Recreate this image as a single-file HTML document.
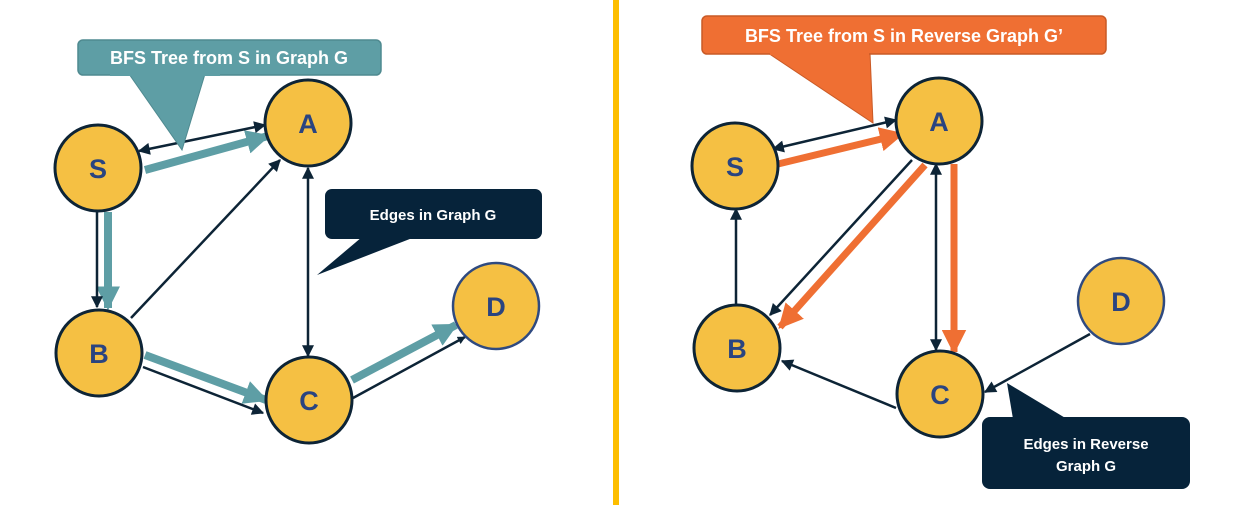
<!DOCTYPE html>
<html><head><meta charset="utf-8"><style>
html,body{margin:0;padding:0;background:#fff;}
svg{display:block;}
text{font-family:"Liberation Sans",Arial,sans-serif;font-weight:bold;}
</style></head><body>
<svg width="1235" height="519" viewBox="0 0 1235 519" xmlns="http://www.w3.org/2000/svg">
<defs>
<marker id="ab" viewBox="0 0 10 10" refX="9" refY="5" markerWidth="8" markerHeight="8" orient="auto-start-reverse" markerUnits="userSpaceOnUse"><path d="M0,0 L10,5 L0,10 z" fill="#0d2436"/></marker>
<marker id="abk" viewBox="0 0 10 10" refX="9" refY="5" markerWidth="13" markerHeight="12" orient="auto-start-reverse" markerUnits="userSpaceOnUse"><path d="M0,0 L10,5 L0,10 z" fill="#0d2436"/></marker>
<marker id="at" viewBox="0 0 10 10" refX="9" refY="5" markerWidth="3" markerHeight="3.2" orient="auto"><path d="M0,0 L10,5 L0,10 z" fill="#5e9ea5"/></marker>
<marker id="ao" viewBox="0 0 10 10" refX="9" refY="5" markerWidth="3.5" markerHeight="3.5" orient="auto"><path d="M0,0 L10,5 L0,10 z" fill="#ef6f33"/></marker>
</defs>

<rect x="613" y="0" width="6" height="505" fill="#fdbe00"/>

<g stroke="#5e9ea5" stroke-width="8" fill="none">
<line x1="145" y1="170" x2="268" y2="136" marker-end="url(#at)"/>
<line x1="108" y1="212" x2="108" y2="308" marker-end="url(#at)"/>
<line x1="145" y1="355" x2="266" y2="400" marker-end="url(#at)"/>
<line x1="352" y1="380" x2="456" y2="325" marker-end="url(#at)"/>
</g>
<g stroke="#0d2436" stroke-width="2.5" fill="none">
<line x1="139" y1="151" x2="265" y2="125" marker-start="url(#abk)" marker-end="url(#abk)"/>
<line x1="97" y1="212" x2="97" y2="307" marker-end="url(#abk)"/>
<line x1="131" y1="318" x2="280" y2="160" marker-end="url(#abk)"/>
<line x1="308" y1="168" x2="308" y2="356" marker-start="url(#abk)" marker-end="url(#abk)"/>
<line x1="143" y1="367" x2="263" y2="413" marker-end="url(#abk)"/>
<line x1="353" y1="398" x2="465" y2="337" marker-end="url(#ab)"/>
</g>

<g fill="#f5c043" stroke="#0d2436" stroke-width="3">
<circle cx="98" cy="168" r="43"/>
<circle cx="308" cy="123" r="43"/>
<circle cx="99" cy="353" r="43"/>
<circle cx="309" cy="400" r="43"/>
</g>
<circle cx="496" cy="306" r="43" fill="#f5c043" stroke="#2f4a80" stroke-width="2.5"/>
<g fill="#2a4480" font-size="27" text-anchor="middle">
<text x="98" y="178">S</text><text x="308" y="133">A</text><text x="99" y="363">B</text><text x="309" y="410">C</text><text x="496" y="316">D</text>
</g>

<polygon points="129,74 205,74 182,150" fill="#5e9ea5" stroke="#4f8a90" stroke-width="1"/>
<rect x="78" y="40" width="303" height="35" rx="5" fill="#5e9ea5" stroke="#4f8a90" stroke-width="1.5"/>
<rect x="110" y="74" width="110" height="2" fill="#5e9ea5"/>
<text x="229" y="64" fill="#fff" font-size="18" text-anchor="middle">BFS Tree from S in Graph G</text>

<polygon points="362,237 415,237 317,275" fill="#06233a"/>
<rect x="325" y="189" width="217" height="50" rx="7" fill="#06233a"/>
<text x="433" y="220" fill="#fff" font-size="15" text-anchor="middle">Edges in Graph G</text>

<g stroke="#ef6f33" stroke-width="7" fill="none">
<line x1="778" y1="164" x2="902" y2="134" marker-end="url(#ao)"/>
<line x1="925" y1="165" x2="780" y2="327" marker-end="url(#ao)"/>
<line x1="954" y1="164" x2="954" y2="352" marker-end="url(#ao)"/>
</g>
<g stroke="#0d2436" stroke-width="2.5" fill="none">
<line x1="773" y1="149" x2="896" y2="120" marker-start="url(#abk)" marker-end="url(#abk)"/>
<line x1="912" y1="160" x2="770" y2="315" marker-end="url(#abk)"/>
<line x1="936" y1="164" x2="936" y2="350" marker-start="url(#abk)" marker-end="url(#abk)"/>
<line x1="736" y1="304" x2="736" y2="209" marker-end="url(#abk)"/>
<line x1="896" y1="408" x2="782" y2="361" marker-end="url(#abk)"/>
<line x1="1090" y1="334" x2="985" y2="392" marker-end="url(#abk)"/>
</g>

<g fill="#f5c043" stroke="#0d2436" stroke-width="3">
<circle cx="735" cy="166" r="43"/>
<circle cx="939" cy="121" r="43"/>
<circle cx="737" cy="348" r="43"/>
<circle cx="940" cy="394" r="43"/>
</g>
<circle cx="1121" cy="301" r="43" fill="#f5c043" stroke="#2f4a80" stroke-width="2.5"/>
<g fill="#2a4480" font-size="27" text-anchor="middle">
<text x="735" y="176">S</text><text x="939" y="131">A</text><text x="737" y="358">B</text><text x="940" y="404">C</text><text x="1121" y="311">D</text>
</g>

<polygon points="768,53 870,53 873,123" fill="#ef6f33" stroke="#c95a26" stroke-width="1"/>
<rect x="702" y="16" width="404" height="38" rx="5" fill="#ef6f33" stroke="#c95a26" stroke-width="1.5"/>
<rect x="770" y="53" width="99" height="2" fill="#ef6f33"/>
<text x="904" y="42" fill="#fff" font-size="18" text-anchor="middle">BFS Tree from S in Reverse Graph G’</text>

<polygon points="1013,419 1067,419 1007,383" fill="#06233a"/>
<rect x="982" y="417" width="208" height="72" rx="8" fill="#06233a"/>
<text x="1086" y="449" fill="#fff" font-size="15" text-anchor="middle">Edges in Reverse</text>
<text x="1086" y="471" fill="#fff" font-size="15" text-anchor="middle">Graph G</text>
</svg>
</body></html>
